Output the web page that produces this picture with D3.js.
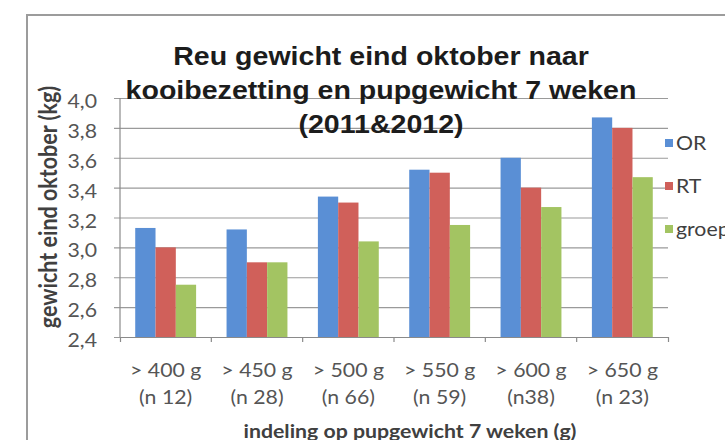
<!DOCTYPE html>
<html>
<head>
<meta charset="utf-8">
<script src="https://cdn.jsdelivr.net/npm/d3@7"></script>
<style>
  body { margin: 0; background: #fff; }
  svg { display: block; }
</style>
</head>
<body>
<svg></svg>
<script>
const categories = ["> 400 g", "> 450 g", "> 500 g", "> 550 g", "> 600 g", "> 650 g"];
const groupSizes = ["(n 12)", "(n 28)", "(n 66)", "(n 59)", "(n38)", "(n 23)"];
const seriesNames = ["OR", "RT", "groep"];
const valuesOR = [3.13, 3.12, 3.34, 3.52, 3.60, 3.87];
const valuesRT = [3.00, 2.90, 3.30, 3.50, 3.40, 3.80];
const valuesGroep = [2.75, 2.90, 3.04, 3.15, 3.27, 3.47];
const yTicks = [2.4, 2.6, 2.8, 3.0, 3.2, 3.4, 3.6, 3.8, 4.0];
const titleLines = ["Reu gewicht eind oktober naar", "kooibezetting en pupgewicht 7 weken", "(2011&2012)"];
const yTitle = "gewicht eind oktober (kg)";
const xTitle = "indeling op pupgewicht 7 weken (g)";

const colors = ["#5a8fd5", "#d0605a", "#a3c462"];
const sx = 1.12; // the picture is a bit stretched sideways

const svg = d3.select("svg").attr("width", 725).attr("height", 440);

const plot = { left: 120, right: 668, top: 98, bottom: 337 };

const x = d3.scaleBand()
  .domain(categories)
  .range([plot.left, plot.right])
  .paddingInner(1 / 3)
  .paddingOuter(1 / 6);

const xSeries = d3.scaleBand().domain(seriesNames).range([0, x.bandwidth()]);

const y = d3.scaleLinear().domain([2.4, 4.0]).range([plot.bottom, plot.top]);

const color = d3.scaleOrdinal().domain(seriesNames).range(colors);

const rows = categories.map((c, i) => ({
  cat: c,
  vals: [valuesOR[i], valuesRT[i], valuesGroep[i]],
}));

// chart border
svg.append("rect")
  .attr("x", 27).attr("y", 15)
  .attr("width", 760).attr("height", 460)
  .attr("fill", "#fff")
  .attr("stroke", "#9c9c9c")
  .attr("stroke-width", 2);

// gridlines + y labels
const yAxis = d3.axisLeft(y)
  .tickValues(yTicks)
  .tickSize(-(plot.right - plot.left + 6))
  .tickPadding(17)
  .tickFormat((d) => d3.format(".1f")(d).replace(".", ","));

const gy = svg.append("g")
  .attr("transform", `translate(${plot.left - 6},0)`)
  .call(yAxis);
gy.select(".domain").remove();
gy.selectAll("line").attr("stroke", "#9a9a9a").attr("stroke-width", 1.2);
gy.selectAll("text")
  .attr("x", -17 / sx)
  .attr("dy", "0.5em")
  .attr("transform", `scale(${sx},1)`)
  .style("font-family", "Lato, 'Open Sans', sans-serif")
  .style("font-size", "19px")
  .attr("fill", "#555");

// bars
svg.append("g")
  .selectAll("g")
  .data(rows)
  .join("g")
  .attr("transform", (d) => `translate(${x(d.cat)},0)`)
  .selectAll("rect")
  .data((d) => d.vals.map((v, j) => ({ key: seriesNames[j], value: v })))
  .join("rect")
  .attr("x", (d) => xSeries(d.key))
  .attr("y", (d) => y(d.value))
  .attr("width", xSeries.bandwidth())
  .attr("height", (d) => y(2.4) - y(d.value))
  .attr("fill", (d) => color(d.key));

// vertical axis line
svg.append("line")
  .attr("x1", plot.left).attr("x2", plot.left)
  .attr("y1", y(4.0)).attr("y2", y(2.4))
  .attr("stroke", "#8a8a8a").attr("stroke-width", 1.2);

// x axis
const xAxis = d3.axisBottom(x).tickSizeInner(0).tickSizeOuter(5).tickPadding(0);
const gx = svg.append("g")
  .attr("transform", `translate(0,${plot.bottom})`)
  .call(xAxis);
gx.select(".domain").attr("stroke", "#8a8a8a").attr("stroke-width", 1.2);
gx.selectAll(".tick text").remove();

const step = x.step();
gx.selectAll(".boundary")
  .data(categories.slice(1))
  .join("line")
  .attr("class", "boundary")
  .attr("x1", (d) => x(d) - step / 6).attr("x2", (d) => x(d) - step / 6)
  .attr("y1", 0).attr("y2", 5)
  .attr("stroke", "#8a8a8a").attr("stroke-width", 1.2);

gx.selectAll(".tick")
  .append("g")
  .attr("transform", `scale(${sx},1)`)
  .each(function (d, i) {
    const g = d3.select(this);
    const t = g.append("text")
      .attr("text-anchor", "middle")
      .style("font-family", "Lato, 'Open Sans', sans-serif")
      .style("font-size", "19px")
      .attr("fill", "#555");
    t.append("tspan").attr("x", 0).attr("y", 40).text(d);
    t.append("tspan").attr("x", 0).attr("y", 67).text(groupSizes[i]);
  });

// x axis title
svg.append("text")
  .attr("transform", `translate(410,438) scale(${sx},1)`)
  .attr("text-anchor", "middle")
  .style("font-family", "Lato, 'Open Sans', sans-serif")
  .style("font-size", "19px")
  .style("font-weight", "bold")
  .attr("fill", "#404040")
  .text(xTitle);

// y axis title
svg.append("text")
  .attr("transform", `translate(57,207) rotate(-90) scale(1,${sx})`)
  .attr("text-anchor", "middle")
  .style("font-family", "Lato, 'Open Sans', sans-serif")
  .style("font-size", "21.5px")
  .style("font-weight", "bold")
  .attr("fill", "#404040")
  .text(yTitle);

// chart title
svg.append("g")
  .selectAll("text")
  .data(titleLines)
  .join("text")
  .attr("transform", (d, i) => `translate(381,${65 + i * 34}) scale(${sx},1)`)
  .attr("text-anchor", "middle")
  .style("font-family", "'Liberation Sans', Arial, sans-serif")
  .style("font-size", "25.5px")
  .style("font-weight", "bold")
  .attr("fill", "#1c1c1c")
  .text((d) => d);

// legend
const legend = svg.append("g")
  .selectAll("g")
  .data(seriesNames)
  .join("g")
  .attr("transform", (d, i) => `translate(665,${143 + i * 43})`);

legend.append("rect")
  .attr("x", 0).attr("y", -4)
  .attr("width", 8).attr("height", 8)
  .attr("fill", (d) => color(d));

legend.append("text")
  .attr("transform", `translate(11,0) scale(${sx},1)`)
  .attr("dy", "0.36em")
  .style("font-family", "Lato, 'Open Sans', sans-serif")
  .style("font-size", "19px")
  .attr("fill", "#404040")
  .text((d) => d);
</script>
</body>
</html>
